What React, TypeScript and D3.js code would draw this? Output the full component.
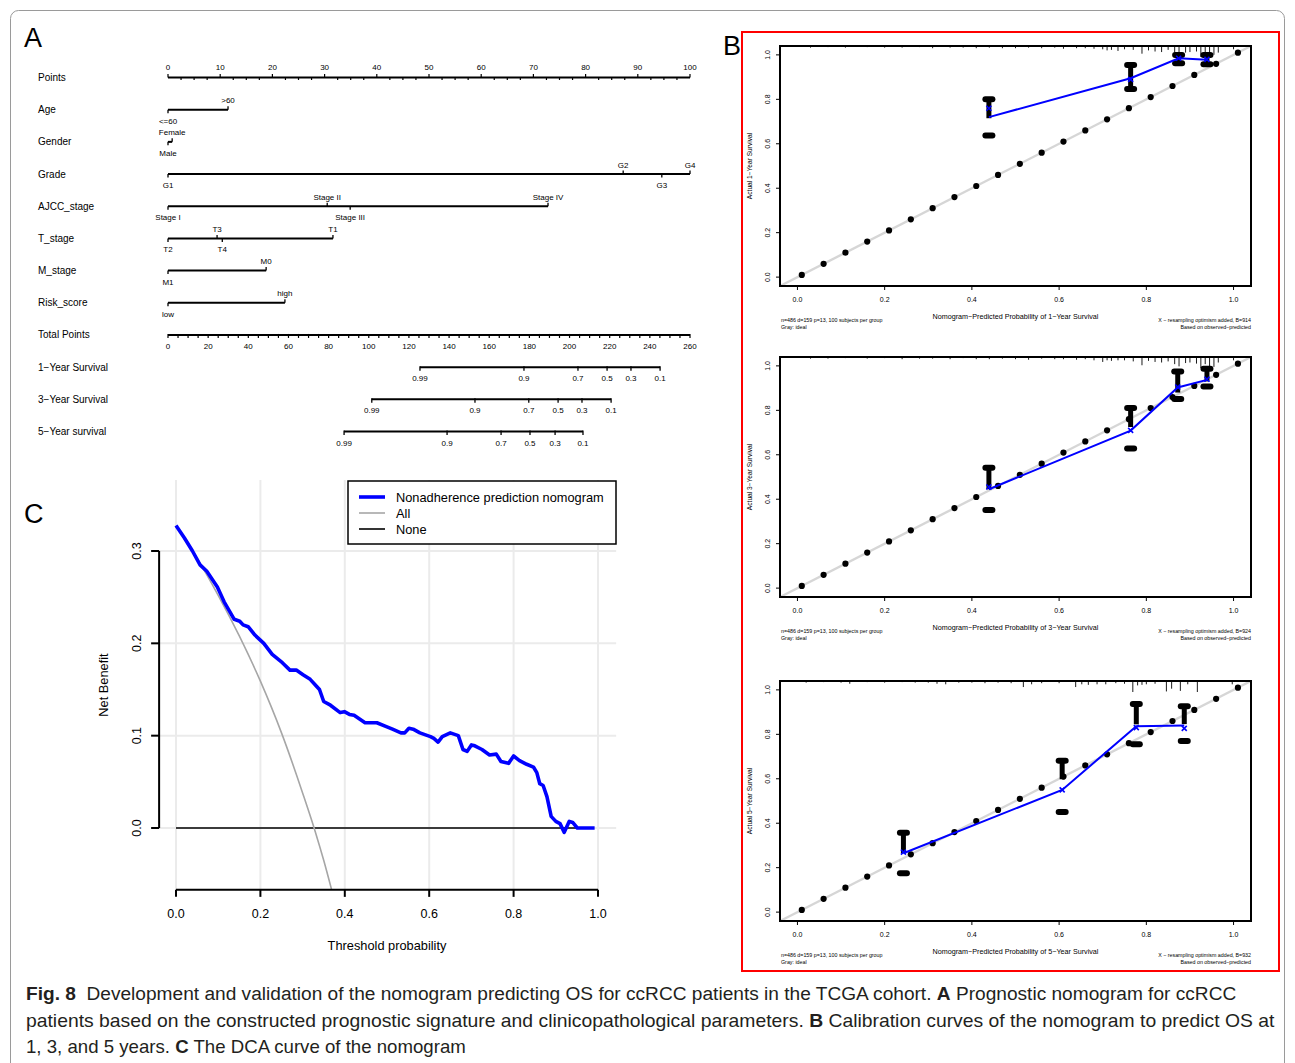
import React, { useLayoutEffect, useRef, useState } from "react";
import * as d3 from "d3";

const W = 1295;
const H = 1063;
const SANS = "'Liberation Sans', Arial, Helvetica, sans-serif";
const CAPTION_FONT = "'Liberation Sans', Arial, sans-serif";

// ---------- A: nomogram ----------
const rowLabels = ["Points", "Age", "Gender", "Grade", "AJCC_stage", "T_stage", "M_stage", "Risk_score",
  "Total Points", "1\u2212Year Survival", "3\u2212Year Survival", "5\u2212Year survival"];
const pointsTicks = [0, 10, 20, 30, 40, 50, 60, 70, 80, 90, 100];
const varLevels = [["<=60", ">60"], ["Female", "Male"], ["G1", "G2", "G3", "G4"],
  ["Stage I", "Stage II", "Stage III", "Stage IV"], ["T2", "T3", "T4", "T1"], ["M1", "M0"], ["low", "high"]];
const varPoints = [[0, 11.5], [0.8, 0], [0, 87.2, 94.6, 100], [0, 30.5, 34.9, 72.8], [0, 9.4, 10.4, 31.6], [0, 18.8], [0, 22.4]];
const totalTicks = [0, 20, 40, 60, 80, 100, 120, 140, 160, 180, 200, 220, 240, 260];
const survLabels = ["0.99", "0.9", "0.7", "0.5", "0.3", "0.1"];
const surv1Total = [125.5, 177.3, 204.2, 218.7, 230.6, 245.1];
const surv3Total = [101.5, 152.9, 179.7, 194.3, 206.2, 220.7];
const surv5Total = [87.7, 139, 165.9, 180.3, 192.8, 206.7];

// ---------- B: calibration ----------
const calYears = ["1", "3", "5"];
const calBoot = [914, 924, 932];
const idealDots = [0.01, 0.06, 0.11, 0.16, 0.21, 0.26, 0.31, 0.36, 0.41, 0.46, 0.51, 0.56, 0.61, 0.66, 0.71, 0.76, 0.81, 0.86, 0.91, 0.96, 1.01];
const calPred = [[0.439, 0.764, 0.874, 0.939], [0.439, 0.764, 0.872, 0.939], [0.243, 0.607, 0.777, 0.887]];
const calObs = [[0.72, 0.895, 0.985, 0.978], [0.445, 0.709, 0.903, 0.937], [0.265, 0.55, 0.836, 0.84]];
const calCorr = [[0.76, 0.89, 0.985, 0.98], [0.455, 0.71, 0.905, 0.94], [0.27, 0.55, 0.83, 0.827]];
const calUpper = [[0.8, 0.955, 1.0, 1.0], [0.542, 0.81, 0.975, 0.987], [0.357, 0.681, 0.937, 0.926]];
const calLower = [[0.637, 0.847, 0.962, 0.958], [0.352, 0.628, 0.851, 0.907], [0.175, 0.45, 0.755, 0.77]];
const calBarLow = [[0.715, 0.85, 0.97, 0.965], [0.445, 0.725, 0.88, 0.93], [0.265, 0.598, 0.845, 0.846]];
const rug1X = [0.03, 0.07, 0.11, 0.16, 0.2, 0.24, 0.28, 0.31, 0.35, 0.38, 0.41, 0.44, 0.47, 0.5, 0.53, 0.56, 0.59, 0.61, 0.64, 0.66, 0.68, 0.7, 0.71, 0.72, 0.735, 0.75, 0.77, 0.79, 0.805, 0.82, 0.835, 0.85, 0.865, 0.875, 0.89, 0.9, 0.915, 0.925, 0.935, 0.945, 0.955, 0.965, 1.0];
const rug1F = [0.15, 0.1, 0.15, 0.1, 0.15, 0.15, 0.1, 0.2, 0.15, 0.15, 0.2, 0.15, 0.2, 0.2, 0.15, 0.2, 0.15, 0.25, 0.2, 0.2, 0.25, 0.3, 0.4, 0.35, 0.45, 0.3, 0.35, 0.7, 0.4, 0.5, 0.55, 0.35, 0.6, 0.9, 0.6, 0.55, 0.5, 1.0, 0.7, 0.9, 0.8, 0.6, 0.3];
const rug3F = [0.15, 0.15, 0.1, 0.15, 0.1, 0.2, 0.15, 0.15, 0.2, 0.1, 0.2, 0.2, 0.15, 0.2, 0.25, 0.15, 0.2, 0.2, 0.25, 0.2, 0.3, 0.45, 0.3, 0.35, 0.3, 0.3, 0.4, 0.75, 0.35, 0.45, 0.5, 0.4, 0.65, 0.85, 0.55, 0.5, 0.6, 1.0, 0.65, 0.85, 0.9, 0.5, 0.3];
const rug5X = [0.02, 0.06, 0.1, 0.12, 0.16, 0.2, 0.24, 0.27, 0.3, 0.32, 0.34, 0.37, 0.4, 0.43, 0.46, 0.49, 0.518, 0.537, 0.56, 0.6, 0.638, 0.652, 0.667, 0.687, 0.707, 0.73, 0.75, 0.769, 0.78, 0.79, 0.8, 0.82, 0.846, 0.858, 0.878, 0.895, 0.917, 0.997];
const rug5F = [0.15, 0.1, 0.15, 0.25, 0.1, 0.15, 0.1, 0.15, 0.15, 0.25, 0.3, 0.15, 0.15, 0.2, 0.15, 0.2, 0.55, 0.3, 0.2, 0.2, 0.55, 0.3, 0.35, 0.3, 0.3, 0.2, 0.25, 1.0, 0.4, 0.35, 0.3, 0.25, 0.95, 0.7, 0.9, 0.3, 1.0, 0.3];
const rugX = [rug1X, rug1X, rug5X];
const rugF = [rug1F, rug3F, rug5F];

// ---------- C: decision curve ----------
const dcaThresh = [0, 0.02, 0.039, 0.057, 0.073, 0.098, 0.114, 0.138, 0.151, 0.159, 0.171, 0.187, 0.208, 0.228, 0.252, 0.27, 0.285, 0.301, 0.318, 0.334, 0.34, 0.35, 0.366, 0.389, 0.399, 0.411, 0.422, 0.448, 0.476, 0.497, 0.513, 0.533, 0.542, 0.552, 0.562, 0.578, 0.603, 0.611, 0.621, 0.631, 0.65, 0.669, 0.68, 0.69, 0.7, 0.708, 0.725, 0.743, 0.759, 0.77, 0.788, 0.8, 0.814, 0.831, 0.847, 0.855, 0.862, 0.87, 0.879, 0.889, 0.9, 0.91, 0.92, 0.932, 0.94, 0.951, 0.992];
const dcaNomogram = [0.3275, 0.314, 0.3, 0.285, 0.278, 0.261, 0.245, 0.226, 0.224, 0.22, 0.218, 0.209, 0.2, 0.188, 0.179, 0.171, 0.171, 0.166, 0.161, 0.153, 0.15, 0.137, 0.133, 0.125, 0.126, 0.123, 0.122, 0.114, 0.114, 0.11, 0.107, 0.103, 0.103, 0.108, 0.107, 0.103, 0.099, 0.097, 0.093, 0.099, 0.103, 0.1, 0.085, 0.083, 0.09, 0.089, 0.085, 0.079, 0.08, 0.072, 0.07, 0.078, 0.073, 0.069, 0.066, 0.06, 0.048, 0.046, 0.034, 0.0126, 0.0072, 0.0047, -0.0047, 0.0072, 0.006, 0, 0];
const allThresh = [0, 0.05, 0.1, 0.15, 0.2, 0.25, 0.3, 0.33, 0.35, 0.37];
const allNet = [0.327, 0.292, 0.252, 0.208, 0.159, 0.103, 0.038, -0.004, -0.035, -0.069];
const noneThresh = [0, 0.99];
const noneNet = [0, 0];
const dcaXTicks = [0, 0.2, 0.4, 0.6, 0.8, 1.0];
const dcaYTicks = [0, 0.1, 0.2, 0.3];
const legendLabels = ["Nonadherence prediction nomogram", "All", "None"];

function Nomogram() {
  const px = d3.scaleLinear().domain([0, 100]).range([168, 690]);
  const tx = d3.scaleLinear().domain([0, 260]).range([168, 690]);
  const rowY = d3.scaleLinear().domain([0, 11]).range([77.5, 431.5]);
  const survRows = [surv1Total, surv3Total, surv5Total];
  const fs = 8;
  return (
    <g fontFamily={SANS} fill="#000">
      <text x={24} y={47} fontSize={27}>A</text>
      {rowLabels.map((r, i) => (
        <text key={r} x={38} y={rowY(i)} fontSize={10} dominantBaseline="central">{r}</text>
      ))}
      {/* Points axis */}
      <g>
        <line x1={px(0)} x2={px(100)} y1={rowY(0)} y2={rowY(0)} stroke="#000" strokeWidth={2} />
        {d3.range(0, 100.01, 2.5).map((t) => (
          <line key={t} x1={px(t)} x2={px(t)} y1={rowY(0)} y2={rowY(0) + (t % 10 === 0 ? -3.5 : 2.5)} stroke="#000" strokeWidth={1.2} />
        ))}
        {pointsTicks.map((t) => (
          <text key={t} x={px(t)} y={rowY(0) - 7.5} fontSize={fs} textAnchor="middle">{t}</text>
        ))}
      </g>
      {/* Variables */}
      {varLevels.map((levels, vi) => {
        const y = rowY(vi + 1);
        const pts = varPoints[vi];
        const order = d3.range(pts.length).sort((a, b) => pts[a] - pts[b]);
        const ext = d3.extent(pts) as [number, number];
        return (
          <g key={vi}>
            <line x1={px(ext[0])} x2={px(ext[1])} y1={y} y2={y} stroke="#000" strokeWidth={2} />
            {order.map((li, k) => {
              const above = k % 2 === 1;
              return (
                <g key={li}>
                  <line x1={px(pts[li])} x2={px(pts[li])} y1={y} y2={y + (above ? -3.5 : 3.5)} stroke="#000" strokeWidth={1.3} />
                  <text x={px(pts[li])} y={above ? y - 6.5 : y + 14} fontSize={fs} textAnchor="middle">{levels[li]}</text>
                </g>
              );
            })}
          </g>
        );
      })}
      {/* Total points */}
      <g>
        <line x1={tx(0)} x2={tx(260)} y1={rowY(8)} y2={rowY(8)} stroke="#000" strokeWidth={2} />
        {d3.range(0, 260.01, 5).map((t) => (
          <line key={t} x1={tx(t)} x2={tx(t)} y1={rowY(8) - 1} y2={rowY(8) + 3} stroke="#000" strokeWidth={1.2} />
        ))}
        {totalTicks.map((t) => (
          <text key={t} x={tx(t)} y={rowY(8) + 14} fontSize={fs} textAnchor="middle">{t}</text>
        ))}
      </g>
      {/* Survival axes */}
      {survRows.map((vals, si) => {
        const y = rowY(9 + si);
        const ext = d3.extent(vals) as [number, number];
        return (
          <g key={si}>
            <line x1={tx(ext[0])} x2={tx(ext[1])} y1={y} y2={y} stroke="#000" strokeWidth={2} />
            {vals.map((v, k) => (
              <g key={k}>
                <line x1={tx(v)} x2={tx(v)} y1={y - 1} y2={y + 3.5} stroke="#000" strokeWidth={1.3} />
                <text x={tx(v)} y={y + 14} fontSize={fs} textAnchor="middle">{survLabels[k]}</text>
              </g>
            ))}
          </g>
        );
      })}
    </g>
  );
}

const calTops = [46, 357, 681];

function CalPanel({ idx }: { idx: number }) {
  const left = 780;
  const right = 1251;
  const top = calTops[idx];
  const bottom = top + 240;
  const x = d3.scaleLinear().domain([-0.04, 1.04]).range([left, right]);
  const y = d3.scaleLinear().domain([-0.04, 1.04]).range([bottom, top]);
  const rugLen = d3.scaleLinear().domain([0, 1]).range([0, 11]);
  const ticks = [0, 0.2, 0.4, 0.6, 0.8, 1.0];
  const fmt = d3.format(".1f");
  const pred = calPred[idx];
  const line = d3.line<number>().x((d, i) => x(pred[i])).y((d) => y(d));
  const yr = calYears[idx];
  const clipId = `calclip${idx}`;
  return (
    <g fontFamily={SANS}>
      <clipPath id={clipId}>
        <rect x={left} y={top} width={right - left} height={bottom - top} />
      </clipPath>
      <g clipPath={`url(#${clipId})`}>
        <line x1={x(-0.04)} y1={y(-0.04)} x2={x(1.04)} y2={y(1.04)} stroke="#d6d6d6" strokeWidth={2.4} />
        {idealDots.map((d) => (
          <circle key={d} cx={x(d)} cy={y(d)} r={3.1} fill="#000" />
        ))}
        {rugX[idx].map((r, i) => (
          <line key={i} x1={x(r)} x2={x(r)} y1={top} y2={top + rugLen(rugF[idx][i])} stroke="#000" strokeWidth={0.9} />
        ))}
        {pred.map((p, i) => (
          <g key={i}>
            <line x1={x(p)} x2={x(p)} y1={y(calUpper[idx][i])} y2={y(calBarLow[idx][i])} stroke="#000" strokeWidth={5} />
            <rect x={x(p) - 6.5} y={y(calUpper[idx][i]) - 3} width={13} height={6} rx={3} fill="#000" />
            <rect x={x(p) - 6.5} y={y(calLower[idx][i]) - 3} width={13} height={6} rx={3} fill="#000" />
          </g>
        ))}
        <path d={line(calObs[idx]) || ""} fill="none" stroke="#0000ff" strokeWidth={2} />
        {pred.map((p, i) => {
          const cx = x(p);
          const cy = y(calCorr[idx][i]);
          return (
            <g key={i} stroke="#0000ff" strokeWidth={1.6}>
              <line x1={cx - 2.5} x2={cx + 2.5} y1={cy - 2.5} y2={cy + 2.5} />
              <line x1={cx - 2.5} x2={cx + 2.5} y1={cy + 2.5} y2={cy - 2.5} />
            </g>
          );
        })}
      </g>
      <rect x={left} y={top} width={right - left} height={bottom - top} fill="none" stroke="#000" strokeWidth={2} />
      {ticks.map((t) => (
        <g key={t}>
          <line x1={x(t)} x2={x(t)} y1={bottom} y2={bottom + 4} stroke="#000" strokeWidth={1} />
          <text x={x(t)} y={bottom + 16} fontSize={7} textAnchor="middle">{fmt(t)}</text>
          <line x1={left} x2={left - 4} y1={y(t)} y2={y(t)} stroke="#000" strokeWidth={1} />
          <text transform={`translate(${left - 10},${y(t)}) rotate(-90)`} fontSize={7} textAnchor="middle">{fmt(t)}</text>
        </g>
      ))}
      <text transform={`translate(${left - 28},${(top + bottom) / 2}) rotate(-90)`} fontSize={6.6} textAnchor="middle">
        {`Actual ${yr}\u2212Year Survival`}
      </text>
      <text x={(left + right) / 2} y={bottom + 33} fontSize={7.2} textAnchor="middle">
        {`Nomogram\u2212Predicted Probability of ${yr}\u2212Year Survival`}
      </text>
      <text x={left + 1} y={bottom + 36} fontSize={5.3}>n=486 d=159 p=13, 100 subjects per group</text>
      <text x={left + 1} y={bottom + 43} fontSize={5.3}>Gray: ideal</text>
      <text x={right} y={bottom + 36} fontSize={5.3} textAnchor="end">{`X \u2212 resampling optimism added, B=${calBoot[idx]}`}</text>
      <text x={right} y={bottom + 43} fontSize={5.3} textAnchor="end">{"Based on observed\u2212predicted"}</text>
    </g>
  );
}

function Dca() {
  const x = d3.scaleLinear().domain([0, 1]).range([176, 598]);
  const y = d3.scaleLinear().domain([0, 0.3]).range([828, 551]);
  const L = x(-0.04);
  const R = x(1.043);
  const T = y(0.377);
  const B = y(-0.067);
  const fmt = d3.format(".1f");
  const lineOf = (xs: number[]) => d3.line<number>().x((d, i) => x(xs[i])).y((d) => y(d));
  const allLine = lineOf(allThresh).curve(d3.curveMonotoneX);
  return (
    <g fontFamily={SANS}>
      <text x={24} y={523} fontSize={27}>C</text>
      <clipPath id="dcaclip">
        <rect x={L} y={T} width={R - L} height={B - T} />
      </clipPath>
      {dcaXTicks.map((t) => (
        <line key={t} x1={x(t)} x2={x(t)} y1={T} y2={B} stroke="#ebebeb" strokeWidth={2} />
      ))}
      {dcaYTicks.map((t) => (
        <line key={t} x1={L} x2={R} y1={y(t)} y2={y(t)} stroke="#ebebeb" strokeWidth={2} />
      ))}
      <g clipPath="url(#dcaclip)">
        <path d={lineOf(noneThresh)(noneNet) || ""} fill="none" stroke="#000" strokeWidth={1.6} />
        <path d={allLine(allNet) || ""} fill="none" stroke="#a6a6a6" strokeWidth={1.6} />
        <path d={lineOf(dcaThresh)(dcaNomogram) || ""} fill="none" stroke="#0000ff" strokeWidth={3.6} strokeLinejoin="round" />
      </g>
      {/* axes */}
      <line x1={x(0)} x2={x(1)} y1={B} y2={B} stroke="#000" strokeWidth={2} />
      {dcaXTicks.map((t) => (
        <g key={t}>
          <line x1={x(t)} x2={x(t)} y1={B} y2={B + 7} stroke="#000" strokeWidth={2} />
          <text x={x(t)} y={B + 28} fontSize={12.5} textAnchor="middle">{fmt(t)}</text>
        </g>
      ))}
      <line x1={L} x2={L} y1={y(0)} y2={y(0.3)} stroke="#000" strokeWidth={2} />
      {dcaYTicks.map((t) => (
        <g key={t}>
          <line x1={L} x2={L - 8} y1={y(t)} y2={y(t)} stroke="#000" strokeWidth={2} />
          <text transform={`translate(${L - 18},${y(t)}) rotate(-90)`} fontSize={12.5} textAnchor="middle">{fmt(t)}</text>
        </g>
      ))}
      <text x={387} y={950} fontSize={12.8} textAnchor="middle">Threshold probability</text>
      <text transform={`translate(108,685) rotate(-90)`} fontSize={12.8} textAnchor="middle">Net Benefit</text>
      {/* legend */}
      <rect x={348} y={481} width={268} height={63} fill="#fff" stroke="#000" strokeWidth={1.5} />
      {legendLabels.map((lab, i) => {
        const ly = 497 + i * 16;
        const col = ["#0000ff", "#a6a6a6", "#000"][i];
        const sw = [3.6, 1.6, 1.6][i];
        return (
          <g key={lab}>
            <line x1={359} x2={385} y1={ly} y2={ly} stroke={col} strokeWidth={sw} />
            <text x={396} y={ly} fontSize={12.8} dominantBaseline="central">{lab}</text>
          </g>
        );
      })}
    </g>
  );
}

// one caption line, squeezed horizontally to the width it has in the figure
function CaptionLine({ x, y, width, children }: { x: number; y: number; width: number; children: React.ReactNode }) {
  const ref = useRef<SVGTextElement>(null);
  const [sx, setSx] = useState(1);
  useLayoutEffect(() => {
    if (ref.current) {
      const w = ref.current.getBBox().width;
      if (w > 0) setSx(width / w);
    }
  }, [width]);
  return (
    <text ref={ref} transform={`translate(${x},${y}) scale(${sx},1)`} style={{ whiteSpace: "pre" }}>
      {children}
    </text>
  );
}

function Caption() {
  return (
    <g fontFamily={CAPTION_FONT} fontSize={19} fill="#231f20">
      <CaptionLine x={26} y={1000} width={1211}>
        <tspan fontWeight="bold">Fig. 8</tspan>
        <tspan>{"  Development and validation of the nomogram predicting OS for ccRCC patients in the TCGA cohort. "}</tspan>
        <tspan fontWeight="bold">A</tspan>
        <tspan>{" Prognostic nomogram for ccRCC"}</tspan>
      </CaptionLine>
      <CaptionLine x={26} y={1027} width={1250}>
        <tspan>{"patients based on the constructed prognostic signature and clinicopathological parameters. "}</tspan>
        <tspan fontWeight="bold">B</tspan>
        <tspan>{" Calibration curves of the nomogram to predict OS at"}</tspan>
      </CaptionLine>
      <CaptionLine x={26} y={1053} width={440}>
        <tspan>{"1, 3, and 5 years. "}</tspan>
        <tspan fontWeight="bold">C</tspan>
        <tspan>{" The DCA curve of the nomogram"}</tspan>
      </CaptionLine>
    </g>
  );
}

export default function App() {
  return (
    <svg width={W} height={H} viewBox={`0 0 ${W} ${H}`} style={{ position: "absolute", left: 0, top: 0, display: "block" }}>
      <rect x={0} y={0} width={W} height={H} fill="#fff" />
      <rect x={10.5} y={10.5} width={1274} height={1080} rx={8} fill="none" stroke="#9a9a9a" strokeWidth={1} />
      <Nomogram />
      <Dca />
      <rect x={742} y={32} width={537} height={939} fill="none" stroke="#ff0000" strokeWidth={2} />
      {calYears.map((_, i) => (
        <CalPanel key={i} idx={i} />
      ))}
      <text x={723} y={55} fontSize={27} fontFamily={SANS}>B</text>
      <Caption />
    </svg>
  );
}
